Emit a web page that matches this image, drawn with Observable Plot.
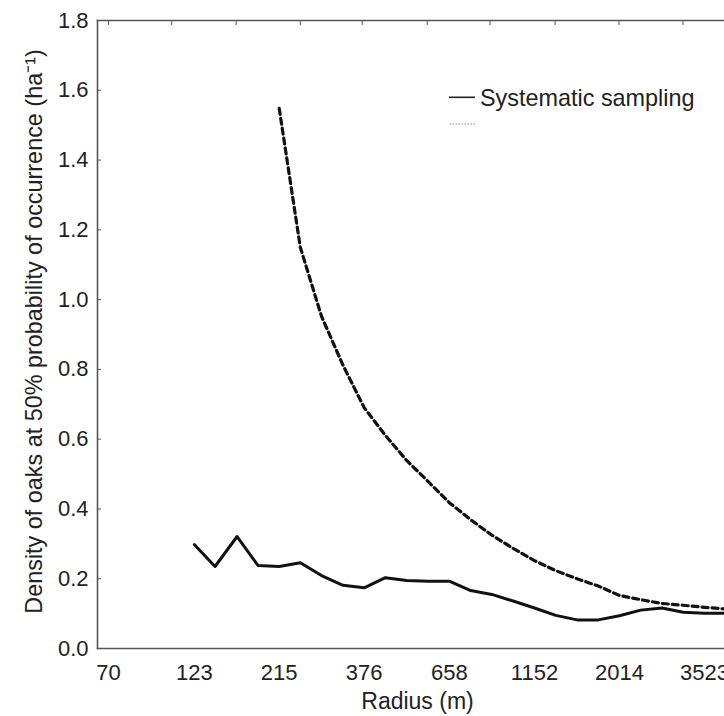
<!DOCTYPE html>
<html>
<head>
<meta charset="utf-8">
<script src="https://cdn.jsdelivr.net/npm/d3@7"></script>
<script src="https://cdn.jsdelivr.net/npm/@observablehq/plot@0.6"></script>
<style>
  html, body { margin: 0; padding: 0; background: #fff; overflow: hidden; }
  #wrap { position: relative; width: 724px; height: 716px; }
  #legend { position: absolute; left: 449px; top: 80px; }
</style>
</head>
<body>
<div id="wrap">
  <svg id="legend" width="275" height="60" font-family="'Liberation Sans', Arial, sans-serif">
    <line x1="0" y1="17.3" x2="26" y2="17.3" stroke="#222" stroke-width="1.6"></line>
    <text x="31" y="26" font-size="23.4" fill="#222">Systematic sampling</text>
    <line x1="0.5" y1="44" x2="26" y2="44" stroke="#888" stroke-width="1" stroke-dasharray="1.5,1.5"></line>
  </svg>
</div>
<script>
// Radius values (m), log-spaced steps
const radius = [123, 141, 163, 187, 215, 247, 284, 327, 376, 432, 497, 572, 658, 757, 870, 1001, 1152, 1325, 1524, 1752, 2014, 2316, 2664, 3063, 3523, 4052];
// Systematic sampling (solid line)
const systematic = [0.298, 0.235, 0.321, 0.238, 0.235, 0.246, 0.209, 0.181, 0.174, 0.203, 0.195, 0.193, 0.193, 0.166, 0.155, 0.136, 0.116, 0.095, 0.082, 0.082, 0.094, 0.110, 0.116, 0.104, 0.101, 0.101];
// Dashed series radii and values
const dashedRadius = [215, 247, 284, 327, 376, 432, 497, 572, 658, 757, 870, 1001, 1152, 1325, 1524, 1752, 2014, 2316, 2664, 3063, 3523, 4052];
const dashed = [1.548, 1.150, 0.952, 0.812, 0.690, 0.611, 0.539, 0.479, 0.418, 0.369, 0.325, 0.287, 0.252, 0.223, 0.200, 0.179, 0.152, 0.140, 0.129, 0.124, 0.118, 0.113];

const xTicks = [70, 123, 215, 376, 658, 1152, 2014, 3523];
const topTicks = [70, 106, 162, 247, 371, 569, 860, 1319, 2008, 3058];
const yTicks = [0, 0.2, 0.4, 0.6, 0.8, 1.0, 1.2, 1.4, 1.6, 1.8];
const yLabel = "Density of oaks at 50% probability of occurrence (ha\u207B\u00B9)";
const xLabel = "Radius (m)";

const solidData = radius.map((r, i) => ({r, v: systematic[i]}));
const dashedData = dashedRadius.map((r, i) => ({r, v: dashed[i]}));

const font = "'Liberation Sans', Arial, sans-serif";
const frameColor = "#555";
const textColor = "#222";

const chart = Plot.plot({
  width: 724,
  height: 716,
  marginLeft: 97,
  marginRight: 0,
  marginTop: 20,
  marginBottom: 68,
  style: { fontFamily: font, fontSize: "22px", color: textColor, background: "#fff", overflow: "visible" },
  x: { type: "log", domain: [65.1, 4018], label: null },
  y: { domain: [0, 1.8], label: null },
  marks: [
    Plot.axisX({ ticks: xTicks, text: d => String(d), tickSize: 0, tickPadding: 16, label: null, fontSize: 22, fill: textColor }),
    Plot.axisX({ anchor: "top", ticks: topTicks, text: () => "", tickSize: -4, label: null, stroke: frameColor }),
    Plot.axisY({ ticks: yTicks, tickFormat: d3.format(".1f"), tickSize: -4, tickPadding: 13, label: null, fontSize: 22, fill: textColor, stroke: frameColor }),
    Plot.frame({ anchor: "top", stroke: frameColor, strokeWidth: 1.6 }),
    Plot.frame({ anchor: "left", stroke: frameColor, strokeWidth: 1.6 }),
    Plot.frame({ anchor: "bottom", stroke: frameColor, strokeWidth: 1.6 }),
    Plot.line(dashedData, { x: "r", y: "v", stroke: "#111", strokeWidth: 3.2, strokeDasharray: "6,4" }),
    Plot.line(solidData, { x: "r", y: "v", stroke: "#111", strokeWidth: 3 }),
    Plot.text([yLabel], { frameAnchor: "left", textAnchor: "middle", lineAnchor: "middle", dx: -63, dy: -3, rotate: -90, fontSize: 23.4, fill: textColor }),
    Plot.text([xLabel], { frameAnchor: "bottom", textAnchor: "middle", lineAnchor: "middle", dx: 6.5, dy: 53.6, fontSize: 23, fill: textColor })
  ]
});
document.getElementById("wrap").prepend(chart);
</script>
</body>
</html>
